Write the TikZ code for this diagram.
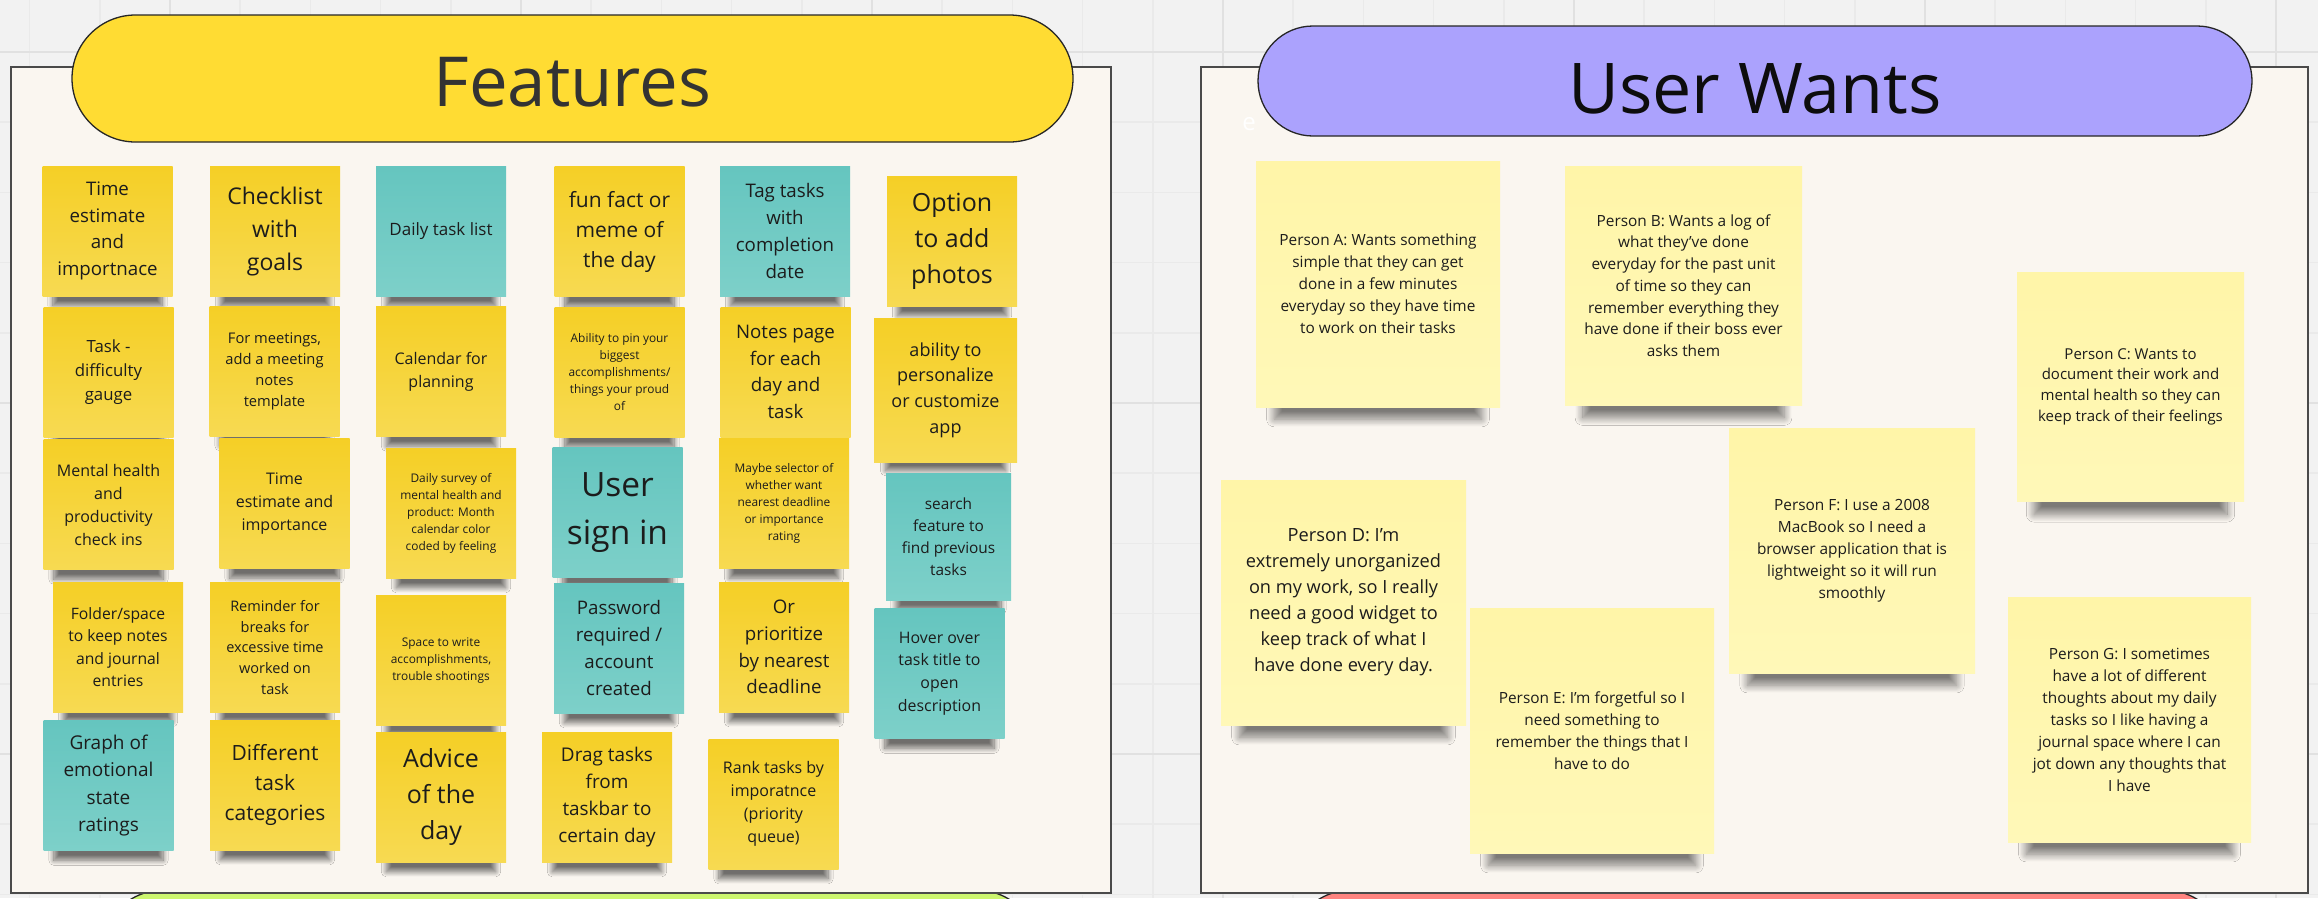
\documentclass[tikz,border=0pt]{standalone}
\usepackage{fontspec}
\setmainfont{Open Sans}
\usetikzlibrary{shadows.blur}
\definecolor{bgcol}{HTML}{F2F2F2}
\definecolor{gridmin}{HTML}{EAEAEA}
\definecolor{gridmaj}{HTML}{E1E1E1}
\definecolor{boardcol}{HTML}{FAF6F0}
\definecolor{framecol}{HTML}{4A4A4A}
\definecolor{featcol}{HTML}{FFDC33}
\definecolor{wantcol}{HTML}{ABA2FD}
\definecolor{limecol}{HTML}{CCF56F}
\definecolor{salmcol}{HTML}{FF8480}
\definecolor{yeltop}{HTML}{F5CF26}
\definecolor{yelbot}{HTML}{F7DA52}
\definecolor{tealtop}{HTML}{65C5BF}
\definecolor{tealbot}{HTML}{7DD0C9}
\definecolor{paletop}{HTML}{FFF5A8}
\definecolor{palebot}{HTML}{FFF8B8}
\definecolor{inkcol}{HTML}{1C1C1C}
\begin{document}
\begin{tikzpicture}[x=1pt,y=-1pt,
		note/.style={minimum width=130pt,minimum height=130pt,inner sep=0pt,align=center,text=inkcol},
		smallshade/.style={blur shadow={shadow xshift=0pt,shadow yshift=-24pt,shadow scale=0.84,shadow blur radius=6pt,shadow blur steps=14,shadow opacity=55}},
		bigshade/.style={blur shadow={shadow xshift=0pt,shadow yshift=-36pt,shadow scale=0.85,shadow blur radius=9pt,shadow blur steps=18,shadow opacity=50}},
		yelnote/.style={note,smallshade,top color=yeltop,bottom color=yelbot},
		tealnote/.style={note,smallshade,top color=tealtop,bottom color=tealbot},
		palenote/.style={note,bigshade,top color=paletop,bottom color=palebot,minimum width=244pt,minimum height=245pt},
		fs/.style 2 args={font=\fontsize{#1}{#2}\selectfont},
		pill/.style={draw=black!85,line width=1.3pt,inner sep=0pt},
		board/.style={draw=framecol,fill=boardcol,line width=1.6pt,inner sep=0pt}]
	\useasboundingbox (0,0) rectangle (2318,898);
	\clip (0,0) rectangle (2318,898);
	\fill[bgcol] (0,0) rectangle (2318,898);
	% grid
	\foreach \k in {0,...,33}
	\draw[gridmin,line width=1.5pt] ({29.6+70.2*\k},0)--({29.6+70.2*\k},898);
	\foreach \k in {0,...,13}
	\draw[gridmin,line width=1.5pt] (0,{-18.2+70.2*\k})--(2318,{-18.2+70.2*\k});
	\foreach \k in {0,...,6}
	\draw[gridmaj,line width=2.5pt] ({170+351*\k},0)--({170+351*\k},898);
	\foreach \k in {0,1,2}
	\draw[gridmaj,line width=2.5pt] (0,{52+351*\k})--(2318,{52+351*\k});
	% boards below
	\node[pill,fill=limecol,minimum width=940pt,minimum height=128pt,rounded corners=64pt] (nextpill) at (570,954) {};
	\node[pill,fill=salmcol,minimum width=940pt,minimum height=128pt,rounded corners=64pt] (otherpill) at (1758,954) {};
	% frames
	\node[board,minimum width=1100pt,minimum height=826pt] (featframe) at (561,480) {};
	\node[board,minimum width=1107pt,minimum height=826pt] (wantframe) at (1754.5,480) {};
	\node[text=white,fs={24}{28}] (stray) at (1249,124) {e};
	% titles
	\node[pill,fill=featcol,minimum width=1001pt,minimum height=127pt,rounded corners=63.5pt] (featpill) at (572.5,78.5) {};
	\node[anchor=base,text=black!80,fs={69}{80}] (feattitle) at (572.5,106) {Features};
	\node[pill,fill=wantcol,minimum width=994pt,minimum height=110pt,rounded corners=55pt] (wantpill) at (1755,81) {};
	\node[anchor=base,text=black!95,fs={70}{80}] (wanttitle) at (1755,113) {User Wants};
	% features, row 1
	\node[yelnote,fs={18.7}{26.7}] (timeest) at (107.5,231) {Time\\estimate\\and\\importnace};
	\node[yelnote,fs={23}{33}] (checklist) at (275,231.5) {Checklist\\with\\goals};
	\node[tealnote,fs={17}{24}] (dailylist) at (441,231) {Daily task list};
	\node[yelnote,fs={21}{30}] (funfact) at (619.5,231.5) {fun fact or\\meme of\\the day};
	\node[tealnote,fs={18.7}{26.7}] (tagdate) at (785,231) {Tag tasks\\with\\completion\\date};
	\node[yelnote,fs={25}{36}] (photos) at (952,241) {Option\\to add\\photos};
	% row 2
	\node[yelnote,fs={16.8}{24}] (difficulty) at (108.5,372) {Task -\\difficulty\\gauge};
	\node[yelnote,fs={14.7}{21}] (meetnotes) at (274.5,371) {For meetings,\\add a meeting\\notes\\template};
	\node[yelnote,fs={16}{23}] (calendar) at (441,371.5) {Calendar for\\planning};
	\node[yelnote,fs={11.9}{17}] (pinbest) at (619.5,372) {Ability to pin your\\biggest\\accomplishments/\\things your proud\\of};
	\node[yelnote,fs={18.7}{26.7}] (notespage) at (785.5,372) {Notes page\\for each\\day and\\task};
	\node[yelnote,fs={18}{25.7},minimum width=143pt,minimum height=144pt] (personalize) at (945.5,390) {ability to\\personalize\\or customize\\app};
	% row 3
	\node[yelnote,fs={16}{23}] (mentalcheck) at (108.5,504.5) {Mental health\\and\\productivity\\check ins};
	\node[yelnote,fs={16}{23}] (timeimp) at (284.5,503.5) {Time\\estimate and\\importance};
	\node[yelnote,fs={11.9}{17}] (survey) at (451,513) {Daily survey of\\mental health and\\product: Month\\calendar color\\coded by feeling};
	\node[tealnote,fs={33.5}{48}] (signin) at (617.5,512.5) {User\\sign in};
	\node[yelnote,fs={11.9}{17}] (selector) at (784,503.5) {Maybe selector of\\whether want\\nearest deadline\\or importance\\rating};
	\node[tealnote,fs={15.4}{22},minimum width=125pt,minimum height=127pt] (search) at (948.5,536.5) {search\\feature to\\find previous\\tasks};
	% row 4
	\node[yelnote,fs={15.7}{22.5}] (folder) at (118,647) {Folder/space\\to keep notes\\and journal\\entries};
	\node[yelnote,fs={14.5}{20.8}] (breaks) at (275,647.5) {Reminder for\\breaks for\\excessive time\\worked on\\task};
	\node[yelnote,fs={11.9}{17}] (accomp) at (441,660.5) {Space to write\\accomplishments,\\trouble shootings};
	\node[tealnote,fs={18.7}{26.7}] (password) at (619,648) {Password\\required /\\account\\created};
	\node[yelnote,fs={18.7}{26.7}] (nearest) at (784,647) {Or\\prioritize\\by nearest\\deadline};
	\node[tealnote,fs={15.9}{22.7}] (hover) at (939.5,673.5) {Hover over\\task title to\\open\\description};
	% row 5
	\node[tealnote,fs={19}{27.5}] (graph) at (108.5,785.5) {Graph of\\emotional\\state\\ratings};
	\node[yelnote,fs={21}{30}] (categories) at (275,785) {Different\\task\\categories};
	\node[yelnote,fs={25}{36}] (advice) at (441,797) {Advice\\of the\\day};
	\node[yelnote,fs={18.9}{27}] (dragtasks) at (607,797) {Drag tasks\\from\\taskbar to\\certain day};
	\node[yelnote,fs={16}{23}] (ranktasks) at (773.5,804) {Rank tasks by\\imporatnce\\(priority\\queue)};
	% user wants
	\node[palenote,fs={15.4}{22},minimum height=246pt] (persa) at (1378,284) {Person A: Wants something\\simple that they can get\\done in a few minutes\\everyday so they have time\\to work on their tasks};
	\node[palenote,fs={15.4}{21.7},minimum width=237pt,minimum height=239pt] (persb) at (1683.5,285.5) {Person B: Wants a log of\\what they've done\\everyday for the past unit\\of time so they can\\remember everything they\\have done if their boss ever\\asks them};
	\node[palenote,fs={15}{20.7},minimum width=227pt,minimum height=229pt] (persc) at (2130.5,386.5) {Person C: Wants to\\document their work and\\mental health so they can\\keep track of their feelings};
	\node[palenote,fs={18.2}{26},minimum width=245pt] (persd) at (1343.5,602.5) {Person D: I'm\\extremely unorganized\\on my work, so I really\\need a good widget to\\keep track of what I\\have done every day.};
	\node[palenote,fs={15.4}{22}] (perse) at (1592,730.5) {Person E: I'm forgetful so I\\need something to\\remember the things that I\\have to do};
	\node[palenote,fs={15.4}{22},minimum width=246pt] (persf) at (1852,550.5) {Person F: I use a 2008\\MacBook so I need a\\browser application that is\\lightweight so it will run\\smoothly};
	\node[palenote,fs={15.4}{22},minimum width=243pt] (persg) at (2129.5,719.5) {Person G: I sometimes\\have a lot of different\\thoughts about my daily\\tasks so I like having a\\journal space where I can\\jot down any thoughts that\\I have};
\end{tikzpicture}
\end{document}
